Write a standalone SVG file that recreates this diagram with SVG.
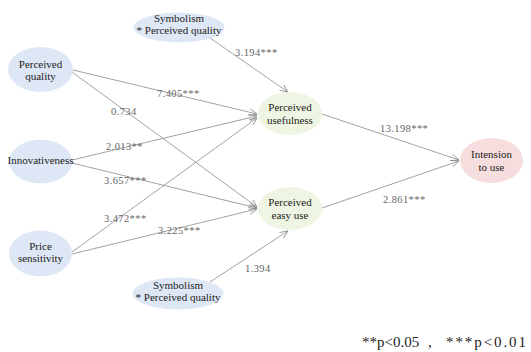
<svg xmlns="http://www.w3.org/2000/svg" width="531" height="352" viewBox="0 0 531 352">
<style>
.nb{fill:#dee7f5}
.ng{fill:#eef5e2}
.np{fill:#f6dede}
.nt{font-family:"Liberation Serif","DejaVu Serif",serif;font-size:11px;fill:#222;text-anchor:middle}
.e{stroke:#8a8a8a;stroke-width:0.8;fill:none;marker-end:url(#ah)}
.lb{font-family:"Liberation Serif","DejaVu Serif",serif;font-size:10.5px;fill:#666;letter-spacing:0.4px}
.fn{font-family:"Liberation Serif","DejaVu Serif",serif;font-size:15px;fill:#222}
</style>
<defs>
<marker id="ah" markerWidth="10" markerHeight="10" refX="8" refY="3.5" orient="auto" markerUnits="userSpaceOnUse">
<path d="M0,0 L8,3.5 L0,7" fill="none" stroke="#8a8a8a" stroke-width="0.8"/>
</marker>
</defs>
<rect width="531" height="352" fill="#fff"/>
<g id="connectors">
<line class="e" x1="210" y1="38" x2="288" y2="92"/>
<line class="e" x1="73" y1="70" x2="257" y2="114"/>
<line class="e" x1="72" y1="72" x2="257" y2="207"/>
<line class="e" x1="72" y1="160" x2="257" y2="116"/>
<line class="e" x1="72" y1="163" x2="257" y2="208"/>
<line class="e" x1="72" y1="252" x2="257" y2="118"/>
<line class="e" x1="72" y1="254" x2="257" y2="209"/>
<line class="e" x1="210" y1="282" x2="288" y2="231"/>
<line class="e" x1="322" y1="114" x2="459" y2="160"/>
<line class="e" x1="322" y1="208" x2="459" y2="161"/>
</g>
<g id="labels">
<text class="lb" x="235" y="56">3.194***</text>
<text class="lb" x="157" y="97">7.405***</text>
<text class="lb" x="111" y="115">0.734</text>
<text class="lb" x="106" y="150">2.013**</text>
<text class="lb" x="104" y="184">3.657***</text>
<text class="lb" x="104" y="222">3.472***</text>
<text class="lb" x="158" y="234">3.225***</text>
<text class="lb" x="245" y="272">1.394</text>
<text class="lb" x="380" y="132">13.198***</text>
<text class="lb" x="383" y="203">2.861***</text>
</g>
<g id="sym-top">
<ellipse class="nb" cx="179" cy="27.5" rx="45.5" ry="15"/>
<text class="nt" x="179" y="22">Symbolism</text>
<text class="nt" x="179" y="34">* Perceived quality</text>
</g>
<g id="perceived-quality">
<ellipse class="nb" cx="40.5" cy="69.5" rx="32.5" ry="22.5"/>
<text class="nt" x="40.5" y="68">Perceived</text>
<text class="nt" x="40.5" y="80">quality</text>
</g>
<g id="innovativeness">
<ellipse class="nb" cx="40.5" cy="161.5" rx="31.5" ry="22"/>
<text class="nt" x="40.5" y="164">Innovativeness</text>
</g>
<g id="price-sensitivity">
<ellipse class="nb" cx="40.5" cy="253.5" rx="31.5" ry="23"/>
<text class="nt" x="40.5" y="250">Price</text>
<text class="nt" x="40.5" y="262">sensitivity</text>
</g>
<g id="sym-bottom">
<ellipse class="nb" cx="178" cy="293.5" rx="45.5" ry="16"/>
<text class="nt" x="178" y="289">Symbolism</text>
<text class="nt" x="178" y="301">* Perceived quality</text>
</g>
<g id="perceived-usefulness">
<ellipse class="ng" cx="290" cy="113.5" rx="32" ry="21.5"/>
<text class="nt" x="290" y="111">Perceived</text>
<text class="nt" x="290" y="124">usefulness</text>
</g>
<g id="perceived-easy-use">
<ellipse class="ng" cx="290" cy="208.5" rx="32" ry="21.5"/>
<text class="nt" x="290" y="206">Perceived</text>
<text class="nt" x="290" y="219">easy use</text>
</g>
<g id="intension-to-use">
<ellipse class="np" cx="491.5" cy="160.5" rx="31.5" ry="22.5"/>
<text class="nt" x="491.5" y="158">Intension</text>
<text class="nt" x="491.5" y="171">to use</text>
</g>
<text class="fn" y="347"><tspan x="362">**p&lt;0.05</tspan><tspan x="428">,</tspan><tspan x="446" textLength="80" lengthAdjust="spacing">***p&lt;0.01</tspan></text>
</svg>
